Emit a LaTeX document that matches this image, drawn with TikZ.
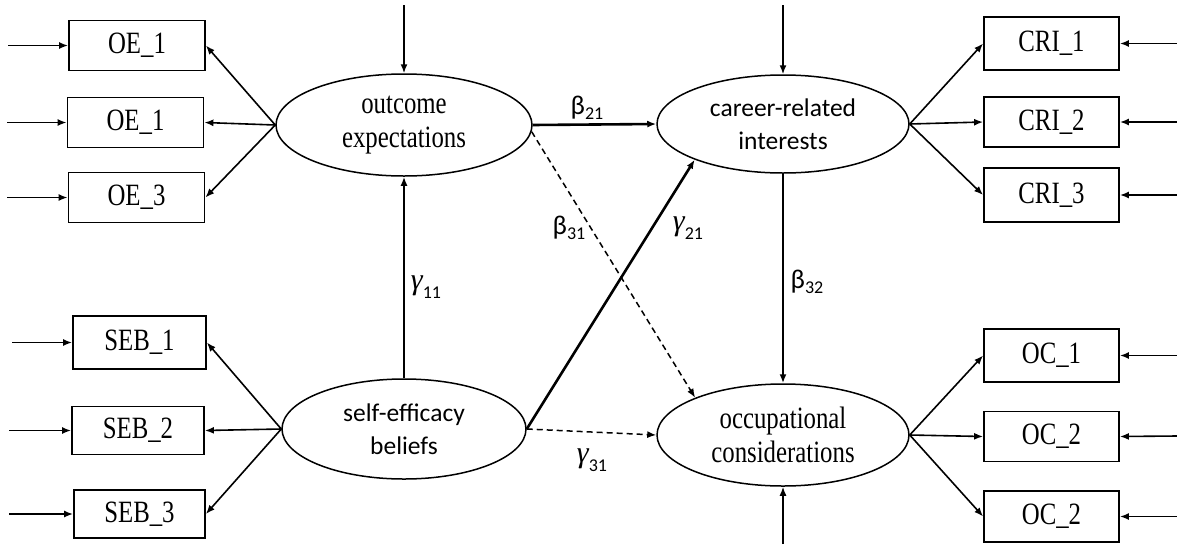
\documentclass[tikz,border=0pt]{standalone}
\usepackage{fontspec}
\setmainfont{Liberation Serif}[FakeStretch=0.8]
\newfontfamily\calib{Carlito}
\newfontfamily\gamfont{Liberation Serif}
\usetikzlibrary{arrows.meta,shapes.geometric}
\newcommand\lbeta[1]{{\calib\fontsize{27}{28}\selectfont β\raisebox{-0.2em}{\fontsize{18}{20}\selectfont #1}}}
\newcommand\lgamma[1]{{\gamfont\fontsize{30}{30}\selectfont\itshape γ\raisebox{-0.3em}{\calib\upshape\fontsize{18}{20}\selectfont #1}}}
\begin{document}
\begin{tikzpicture}[x=1pt,y=-1pt,
  obs/.style={draw,line width=1.8pt,minimum width=136pt,minimum height=50pt,inner sep=0pt,font=\fontsize{31}{32}\selectfont},
  lat/.style={draw,ellipse,line width=1.5pt,inner sep=0pt,align=center,font=\fontsize{31}{34}\selectfont},
  arr/.style={-{Latex[length=9pt,width=7pt]},line width=1.6pt},
  boldarr/.style={arr,line width=2.6pt},
  dasharr/.style={arr,line width=1.5pt,dash pattern=on 6pt off 4pt},
  lab/.style={inner sep=0pt}]
\useasboundingbox (0,0) rectangle (1177,544);
% latent variables
\node[lat,minimum width=256pt,minimum height=102pt] (oe) at (404,125) {outcome\\expectations};
\node[lat,minimum width=252pt,minimum height=98pt,font=\calib\fontsize{25.5}{33}\selectfont] (cri) at (783,124) {career-related\\interests};
\node[lat,minimum width=244pt,minimum height=100pt,font=\calib\fontsize{25.5}{33}\selectfont] (se) at (404,429) {self-efficacy\\beliefs};
\node[lat,minimum width=252pt,minimum height=102pt] (oc) at (783,435) {occupational\\considerations};
% indicators
\node[obs] (oe1) at (137,45.5) {OE\_1};
\node[obs] (oe2) at (135.5,122.5) {OE\_1};
\node[obs] (oe3) at (136.5,197.5) {OE\_3};
\node[obs,minimum width=133pt,minimum height=53pt] (seb1) at (139.5,342.5) {SEB\_1};
\node[obs,minimum width=132pt,minimum height=48pt] (seb2) at (138,430.5) {SEB\_2};
\node[obs,minimum width=131pt,minimum height=48pt] (seb3) at (139.5,514) {SEB\_3};
\node[obs,minimum width=135pt,minimum height=53pt] (cri1) at (1051.5,43.5) {CRI\_1};
\node[obs,minimum width=135pt] (cri2) at (1051.5,122) {CRI\_2};
\node[obs,minimum width=135pt,minimum height=54pt] (cri3) at (1051.5,195) {CRI\_3};
\node[obs,minimum width=135pt,minimum height=53pt] (oc1) at (1051.5,355.5) {OC\_1};
\node[obs,minimum width=135pt] (oc2) at (1051.5,436.5) {OC\_2};
\node[obs,minimum width=135pt,minimum height=51pt] (oc3) at (1051.5,516.5) {OC\_2};
% error term free ends
\coordinate (e1) at (8,45.5);
\coordinate (e2) at (7,122.5);
\coordinate (e3) at (7,197.5);
\coordinate (e4) at (12,342.5);
\coordinate (e5) at (9,430.5);
\coordinate (e6) at (9,514);
\coordinate (e7) at (1177,43.5);
\coordinate (e8) at (1177,122);
\coordinate (e9) at (1177,195);
\coordinate (e10) at (1177,355.5);
\coordinate (e11) at (1177,436);
\coordinate (e12) at (1177,516.5);
\coordinate (z1) at (404,5);
\coordinate (z2) at (783,5);
\coordinate (z3) at (783,544);
\foreach \e/\b in {e1/oe1,e2/oe2,e3/oe3,e4/seb1,e5/seb2,e6/seb3}
  \draw[arr] (\e) -- (\b.west);
\foreach \e/\b in {e7/cri1,e8/cri2,e9/cri3,e10/oc1,e11/oc2,e12/oc3}
  \draw[arr] (\e) -- (\b.east);
\draw[arr] (z1) -- (oe.north);
\draw[arr] (z2) -- (cri.north);
\draw[arr] (z3) -- (oc.south);
% loadings
\foreach \b in {oe1,oe2,oe3} \draw[arr] (oe.west) -- (\b.east);
\foreach \b in {seb1,seb2,seb3} \draw[arr] (se.west) -- (\b.east);
\foreach \b in {cri1,cri2,cri3} \draw[arr] (cri.east) -- (\b.west);
\foreach \b in {oc1,oc2,oc3} \draw[arr] (oc.east) -- (\b.west);
% structural paths
\draw[boldarr] (se.north) -- (oe.south);
\draw[boldarr] (oe.east) -- (cri.west);
\draw[boldarr] (se.east) -- (cri.202);
\draw[boldarr] (cri.south) -- (oc.north);
\draw[dasharr] (oe.-3) -- (oc.157);
\draw[dasharr] (se.east) -- (oc.west);
% labels
\node[lab] (l21) at (587,108) {\lbeta{21}};
\node[lab] (l31) at (569,228) {\lbeta{31}};
\node[lab] (l32) at (807,282) {\lbeta{32}};
\node[lab] (g11) at (426,287) {\lgamma{11}};
\node[lab] (g21) at (688,228) {\lgamma{21}};
\node[lab] (g31) at (592,460) {\lgamma{31}};
\end{tikzpicture}
\end{document}
